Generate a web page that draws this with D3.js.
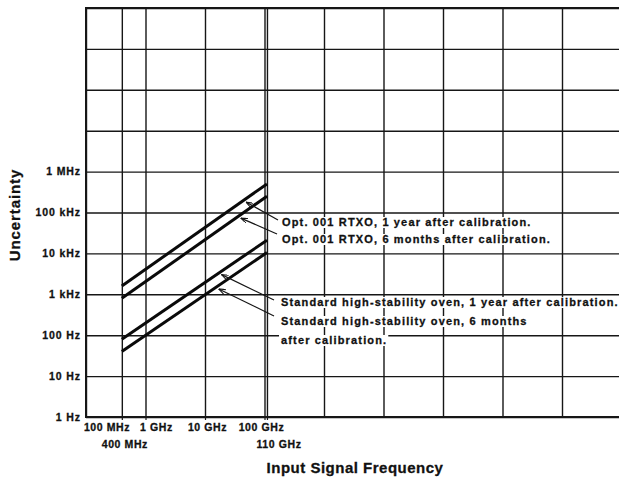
<!DOCTYPE html>
<html><head><meta charset="utf-8">
<script src="https://cdn.jsdelivr.net/npm/d3@7"></script>
<style>
html,body{margin:0;padding:0;background:#fff;}
svg{display:block;}
text{font-family:"Liberation Sans",Arial,Helvetica,sans-serif;font-weight:bold;fill:#111;stroke:#111;stroke-width:0.3px;}
</style></head><body>
<svg id="chart" width="619" height="480"></svg>
<script>
// ---- data ----
const frequencyGrid = [1e8, 4e8, 1e9, 1e10, 1e11, 1.1e11, 1e12, 1e13, 1e14, 1e15, 1e16];
const uncertaintyGrid = [1, 10, 100, 1e3, 1e4, 1e5, 1e6, 1e7, 1e8, 1e9, 1e10];
const yTickValues = [1, 10, 100, 1e3, 1e4, 1e5, 1e6];
const yTickLabels = ["1 Hz", "10 Hz", "100 Hz", "1 kHz", "10 kHz", "100 kHz", "1 MHz"];
const xTickValues = [1e8, 1e9, 1e10, 1e11];
const xTickLabels = ["100 MHz", "1 GHz", "10 GHz", "100 GHz"];
const xTickValues2 = [4e8, 1.1e11];
const xTickLabels2 = ["400 MHz", "110 GHz"];
const lineFreqs = [4e8, 1.1e11];
const opt001OneYear = [1600, 500000];
const opt001SixMonths = [800, 250000];
const stdOvenOneYear = [80, 21000];
const stdOvenSixMonths = [40, 10500];
const optLabels = ["Opt. 001 RTXO, 1 year after calibration.", "Opt. 001 RTXO, 6 months after calibration."];
const stdLabels = ["Standard high-stability oven, 1 year after calibration.", "Standard high-stability oven, 6 months", "after calibration."];
const arrowFreqs = [4.9e10, 4.0e10, 1.9e10, 1.7e10];
const yTitle = "Uncertainty";
const xTitle = "Input Signal Frequency";

// ---- layout ----
const W = 619, H = 480;
const plotLeft = 86, plotTop = 8, plotBottom = 417;
const decadePx = 59.5;
const svg = d3.select("#chart");
svg.append("rect").attr("width", W).attr("height", H).attr("fill", "#fff");

const x = d3.scaleLog().domain([1e8, 1e17]).range([plotLeft, plotLeft + 9 * decadePx]);
const y = d3.scaleLog().domain([1, 1e10]).range([plotBottom, plotTop]);

const ink = "#161616";

// horizontal grid + y labels
const yLabelMap = new Map(yTickValues.map((v, i) => [v, yTickLabels[i]]));
const gY = svg.append("g").attr("transform", `translate(${plotLeft},0)`)
  .call(d3.axisLeft(y).tickValues(uncertaintyGrid).tickSize(-(W - plotLeft + 5)).tickPadding(5)
    .tickFormat(d => yLabelMap.get(d) || ""));
gY.select(".domain").remove();
gY.selectAll(".tick line").attr("stroke", ink).attr("stroke-width", 1.4);
gY.selectAll(".tick text").attr("font-size", 10.5).attr("letter-spacing", 0.9)
  .attr("font-family", null).attr("fill", ink);

// vertical grid
const gX = svg.append("g").attr("transform", `translate(0,${plotBottom})`)
  .call(d3.axisBottom(x).tickValues(frequencyGrid).tickSizeInner(-(plotBottom - plotTop)).tickSizeOuter(0).tickFormat(""));
gX.select(".domain").remove();
gX.selectAll(".tick line").attr("stroke", ink).attr("stroke-width", 1.4);
// small outward ticks below axis
const gXt = svg.append("g").attr("transform", `translate(0,${plotBottom})`)
  .call(d3.axisBottom(x).tickValues(frequencyGrid.slice(1, 6)).tickSize(3).tickFormat(""));
gXt.select(".domain").remove();
gXt.selectAll(".tick line").attr("stroke", ink).attr("stroke-width", 1.2);

// frame (top, left, bottom)
svg.append("path")
  .attr("d", `M${W + 5},${plotTop}H${plotLeft}V${plotBottom}H${W + 5}`)
  .attr("fill", "none").attr("stroke", ink).attr("stroke-width", 2);

// x tick labels (two rows)
const row1dx = {1e8: 21, 1e9: 11, 1e10: 2.5, 1e11: -3};
const row2dx = {4e8: 3, 1.1e11: 12};
svg.append("g").selectAll("text").data(xTickValues).join("text")
  .attr("x", d => x(d) + row1dx[d]).attr("y", 431)
  .attr("text-anchor", "middle").attr("font-size", 10.5).attr("letter-spacing", 0.6)
  .text((d, i) => xTickLabels[i]);
svg.append("g").selectAll("text").data(xTickValues2).join("text")
  .attr("x", d => x(d) + row2dx[d]).attr("y", 448)
  .attr("text-anchor", "middle").attr("font-size", 10.5).attr("letter-spacing", 0.6)
  .text((d, i) => xTickLabels2[i]);

// axis titles
svg.append("text").attr("transform", `translate(20,215) rotate(-90)`)
  .attr("text-anchor", "middle").attr("font-size", 15).attr("letter-spacing", 0.9)
  .text(yTitle);
svg.append("text").attr("x", 355).attr("y", 473)
  .attr("text-anchor", "middle").attr("font-size", 15).attr("letter-spacing", 0.5)
  .text(xTitle);

// series lines
const series = [opt001OneYear, opt001SixMonths, stdOvenOneYear, stdOvenSixMonths];
const line = d3.line().x(d => x(d[0])).y(d => y(d[1]));
svg.append("g").selectAll("path").data(series).join("path")
  .attr("d", s => line(lineFreqs.map((f, i) => [f, s[i]])))
  .attr("fill", "none").attr("stroke", "#0a0a0a").attr("stroke-width", 3);

// annotation text with white backing
function textBlock(lines, x0, baselines) {
  const g = svg.append("g");
  lines.forEach((t, i) => {
    const bg = g.append("rect").attr("fill", "#fff");
    const tx = g.append("text").attr("x", x0).attr("y", baselines[i])
      .attr("font-size", 11).attr("letter-spacing", 1.15).text(t);
    const b = tx.node().getBBox();
    bg.attr("x", b.x - 2).attr("y", b.y + 1).attr("width", b.width + 3).attr("height", b.height - 1);
  });
}
textBlock(optLabels, 282, [226, 243]);
textBlock(stdLabels, 281, [306, 325, 344]);

// leader arrows
const defs = svg.append("defs");
defs.append("marker").attr("id", "arr").attr("viewBox", "0 0 8 6").attr("refX", 8).attr("refY", 3)
  .attr("markerWidth", 7).attr("markerHeight", 5).attr("markerUnits", "userSpaceOnUse").attr("orient", "auto")
  .append("path").attr("d", "M0,0L8,3L0,6").attr("fill", "none").attr("stroke", ink).attr("stroke-width", 1.3);

function pointOn(s, f) {
  const x0 = x(lineFreqs[0]), x1 = x(lineFreqs[1]);
  const t = (x(f) - x0) / (x1 - x0);
  return [x(f), d3.interpolateNumber(y(s[0]), y(s[1]))(t)];
}
const leaderStarts = [[278, 220], [277, 234], [274, 300], [274, 316]];
series.forEach((s, i) => {
  const p = pointOn(s, arrowFreqs[i]);
  svg.append("line")
    .attr("x1", leaderStarts[i][0]).attr("y1", leaderStarts[i][1])
    .attr("x2", p[0]).attr("y2", p[1] + 3.5)
    .attr("stroke", ink).attr("stroke-width", 1.2).attr("marker-end", "url(#arr)");
});
</script>
</body></html>
